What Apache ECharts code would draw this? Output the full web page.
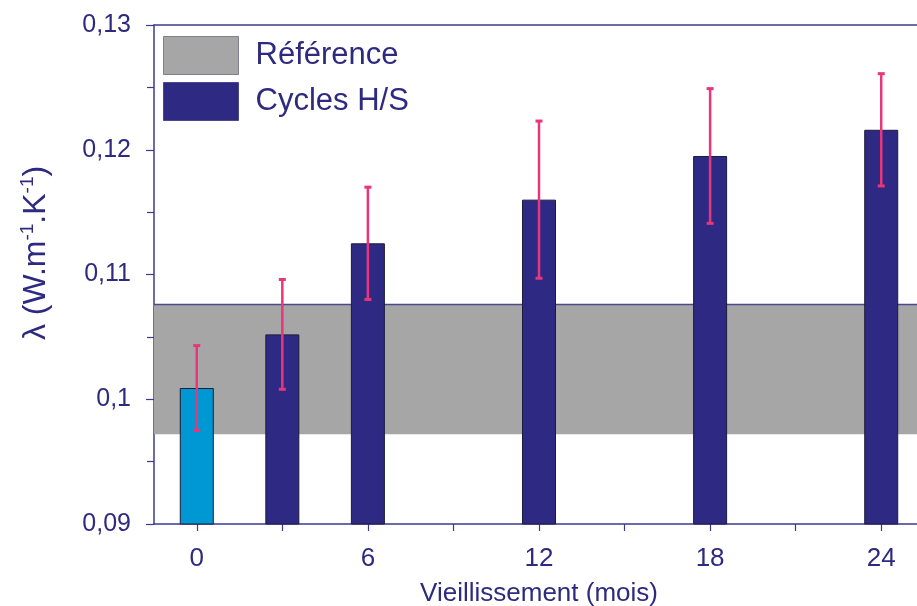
<!DOCTYPE html>
<html>
<head>
<meta charset="utf-8">
<script src="https://cdn.jsdelivr.net/npm/echarts@6/dist/echarts.min.js"></script>
<style>
html,body{margin:0;padding:0;background:#fff;}
#chart{width:917px;height:606px;}
</style>
</head>
<body>
<div id="chart"></div>
<script>
// Data
var months = [0, 3, 6, 12, 18, 24];
var lambdaMean = [0.1009, 0.1052, 0.1125, 0.1160, 0.1195, 0.1216];
var lambdaErr = [0.0034, 0.0044, 0.0045, 0.0063, 0.0054, 0.0045];
var referenceBand = [0.0972, 0.1076];
var xMajorLabels = [0, 6, 12, 18, 24];
var xTicks = [0, 3, 6, 9, 12, 15, 18, 21, 24];
var seriesNames = ['Référence', 'Cycles H/S'];

var NAVY = '#2d2a80';
var AXIS = '#3c3a8c';
var FONT = '"Liberation Sans", Arial, Helvetica, sans-serif';

var barData = months.map(function (m, i) {
  var d = { value: [m, lambdaMean[i]] };
  if (i === 0) d.itemStyle = { color: '#0098d3' };
  return d;
});
var errData = months.map(function (m, i) {
  return [m, lambdaMean[i] - lambdaErr[i], lambdaMean[i] + lambdaErr[i]];
});

var chart = echarts.init(document.getElementById('chart'), null, { renderer: 'canvas' });
var fmt = function (v) { return String(+v.toFixed(3)).replace('.', ','); };

chart.setOption({
  animation: false,
  backgroundColor: '#ffffff',
  textStyle: { fontFamily: FONT },
  grid: { left: 154, top: 25, width: 770, height: 499, containLabel: false, outerBoundsMode: 'none' },
  legend: {
    orient: 'vertical',
    left: 163,
    top: 36,
    padding: 0,
    itemWidth: 75,
    itemHeight: 38,
    itemGap: 7,
    icon: 'rect',
    selectedMode: false,
    textStyle: { fontSize: 31, color: NAVY, fontFamily: FONT, padding: [0, 0, 0, 12] },
    data: [
      { name: seriesNames[0], itemStyle: { color: '#a6a6a6', borderColor: '#7f7f8f', borderWidth: 1 } },
      { name: seriesNames[1], itemStyle: { color: '#2e2a84', borderColor: '#4a4a8a', borderWidth: 1 } }
    ]
  },
  xAxis: [{
    type: 'value',
    min: -1.5,
    max: 25.5,
    position: 'bottom',
    axisLine: { show: true, onZero: false, lineStyle: { color: AXIS, width: 1.5 } },
    axisTick: { show: true, length: 7, customValues: xTicks, lineStyle: { color: AXIS, width: 1.2 } },
    axisLabel: { customValues: xMajorLabels, margin: 22, fontSize: 26, color: NAVY, fontFamily: FONT },
    splitLine: { show: false },
    name: 'Vieillissement (mois)',
    nameLocation: 'middle',
    nameGap: 57,
    nameTextStyle: { fontSize: 26, color: NAVY, fontFamily: FONT }
  }, {
    type: 'value',
    min: -1.5,
    max: 25.5,
    position: 'top',
    axisLine: { show: true, onZero: false, lineStyle: { color: AXIS, width: 1.5 } },
    axisTick: { show: false },
    axisLabel: { show: false },
    splitLine: { show: false }
  }],
  yAxis: [{
    type: 'value',
    min: 0.09,
    max: 0.13,
    interval: 0.01,
    position: 'left',
    axisLine: { show: true, onZero: false, lineStyle: { color: AXIS, width: 1.5 } },
    axisTick: { show: true, length: 8, lineStyle: { color: AXIS, width: 1.2 } },
    minorTick: { show: true, splitNumber: 2, length: 7, lineStyle: { color: AXIS, width: 1.2 } },
    axisLabel: { formatter: fmt, margin: 23, fontSize: 25, color: NAVY, fontFamily: FONT },
    splitLine: { show: false }
  }, {
    type: 'value',
    min: 0.09,
    max: 0.13,
    interval: 0.01,
    position: 'right',
    axisLine: { show: false, onZero: false, lineStyle: { color: AXIS, width: 1.5 } },
    axisTick: { show: true, inside: true, length: 7, lineStyle: { color: AXIS, width: 1.2 } },
    minorTick: { show: true, splitNumber: 2, length: 7, lineStyle: { color: AXIS, width: 1.2 } },
    axisLabel: { show: false },
    splitLine: { show: false }
  }],
  graphic: [{
    type: 'text',
    x: 36,
    y: 253,
    rotation: Math.PI / 2,
    style: {
      text: '{a|λ (W.m}{s|-1}{a|.K}{s|-1}{a|)}',
      align: 'center',
      verticalAlign: 'middle',
      fill: NAVY,
      rich: {
        a: { fontSize: 32, lineHeight: 35, fontFamily: FONT, fill: NAVY, color: NAVY },
        s: { fontSize: 19, lineHeight: 19, verticalAlign: 'top', fontFamily: FONT, fill: NAVY, color: NAVY }
      }
    }
  }],
  series: [{
    name: seriesNames[0],
    type: 'custom',
    z: 1,
    itemStyle: { color: '#a6a6a6' },
    data: [[referenceBand[0], referenceBand[1]]],
    renderItem: function (params, api) {
      var lo = api.coord([-1.5, api.value(0)]);
      var hi = api.coord([25.5, api.value(1)]);
      return {
        type: 'group',
        children: [{
          type: 'rect',
          shape: { x: lo[0], y: hi[1], width: hi[0] - lo[0], height: lo[1] - hi[1] },
          style: { fill: '#a6a6a6' }
        }, {
          type: 'line',
          shape: { x1: lo[0], y1: hi[1], x2: hi[0], y2: hi[1] },
          style: { stroke: '#4b4a8c', lineWidth: 1.5 }
        }]
      };
    }
  }, {
    name: seriesNames[1],
    type: 'bar',
    z: 3,
    barWidth: 34,
    itemStyle: { color: '#2e2a84', borderColor: '#1b1b3a', borderWidth: 1 },
    data: barData
  }, {
    name: 'err',
    type: 'custom',
    z: 5,
    data: errData,
    renderItem: function (params, api) {
      var lo = api.coord([api.value(0), api.value(1)]);
      var hi = api.coord([api.value(0), api.value(2)]);
      var c = '#e8357c';
      var hw = 3.5;
      return {
        type: 'group',
        children: [{
          type: 'line', shape: { x1: lo[0], y1: lo[1], x2: hi[0], y2: hi[1] },
          style: { stroke: c, lineWidth: 2.5 }
        }, {
          type: 'line', shape: { x1: lo[0] - hw, y1: lo[1], x2: lo[0] + hw, y2: lo[1] },
          style: { stroke: c, lineWidth: 3 }
        }, {
          type: 'line', shape: { x1: hi[0] - hw, y1: hi[1], x2: hi[0] + hw, y2: hi[1] },
          style: { stroke: c, lineWidth: 3 }
        }]
      };
    }
  }]
});
</script>
</body>
</html>
